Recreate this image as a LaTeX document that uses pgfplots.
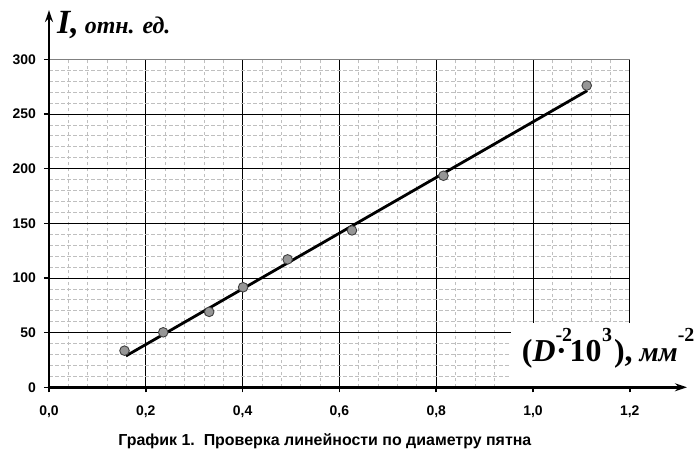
\documentclass[border=0pt]{standalone}
\usepackage{pgfplots}
\pgfplotsset{compat=1.18}
\usepackage{fontspec}
\setmainfont{Liberation Serif}
\newfontfamily\arial{Liberation Sans}
\usetikzlibrary{arrows.meta}
\begin{document}
\begin{tikzpicture}
\begin{axis}[
  x=484bp, y=1.0933bp,
  xmin=0, xmax=1.2, ymin=0, ymax=300,
  axis line style={draw=none},
  clip=false,
  xtick={0,0.2,0.4,0.6,0.8,1.0,1.2},
  xticklabels={{0,0},{0,2},{0,4},{0,6},{0,8},{1,0},{1,2}},
  ytick={0,50,100,150,200,250,300},
  yticklabels={0,50,100,150,200,250,300},
  minor tick num=4,
  grid=both,
  major grid style={black, line width=0.8bp},
  minor grid style={black!25, dash pattern=on 3.5bp off 2.5bp, line width=0.7bp},
  tick pos=left,
  tick align=outside,
  major tick length=5bp,
  minor tick length=0pt,
  every tick/.style={black, line width=1.5bp},
  ticklabel style={font=\arial\bfseries\fontsize{14}{16}\selectfont},
  xticklabel style={yshift=-9.5bp},
  yticklabel style={xshift=-4.5bp},
]
\coordinate (bl) at (axis cs:-0.10124,-64.67);
\coordinate (tr) at (axis cs:1.33471,354.25);
% white area behind the x label
\fill[white] (axis cs:0.955,1.5) rectangle (axis cs:1.33,59);
% gray top border
\draw[black!50, line width=1bp] (axis cs:0,300) -- (axis cs:1.2,300);
% data points
\addplot[only marks, mark=*, mark size=4.8bp,
  mark options={fill={rgb,255:red,150;green,150;blue,150}, draw=black!75, line width=0.9bp}]
  coordinates {(0.156,33.5) (0.236,50.3) (0.331,69) (0.401,91.5) (0.493,117) (0.626,143.5) (0.815,193.5) (1.111,276)};
% fitted line
\addplot[black, line width=2.8bp] coordinates {(0.159,28.7) (1.112,271.3)};
% axes with arrows
\draw[line width=2.8bp, -{Stealth[length=12bp,width=8bp]}, shorten <=-1.4bp] (axis cs:0,0) -- (axis cs:1.318,0);
\draw[line width=2.8bp, -{Stealth[length=12bp,width=8bp]}, shorten <=-1.4bp] (axis cs:0,0) -- (axis cs:0,345);
% y label
\node[anchor=base west, inner sep=0] at (axis cs:0.0165,324)
  {\bfseries\itshape\fontsize{34}{38}\selectfont I,\fontsize{24}{28}\selectfont{} отн. ед.};
% x label
\node[anchor=base west, inner sep=0] at (axis cs:0.9767,24)
  {\bfseries\fontsize{32}{36}\selectfont (\textit{D}\rlap{\raisebox{20bp}{\fontsize{20}{22}\selectfont -2}}\kern0.5bp·\kern3bp 10\kern0.5bp\raisebox{20bp}{\fontsize{20}{22}\selectfont 3}\kern2bp),\fontsize{28}{30}\selectfont{} \textit{мм}\raisebox{20bp}{\fontsize{20}{22}\selectfont -2}};
% caption
\node[anchor=base, inner sep=0] at (axis cs:0.570,-52.8)
  {\arial\bfseries\fontsize{16}{18}\selectfont График 1.\ \ Проверка линейности по диаметру пятна};
\end{axis}
\pgfresetboundingbox
\path[use as bounding box] (bl) rectangle (tr);
\end{tikzpicture}
\end{document}
